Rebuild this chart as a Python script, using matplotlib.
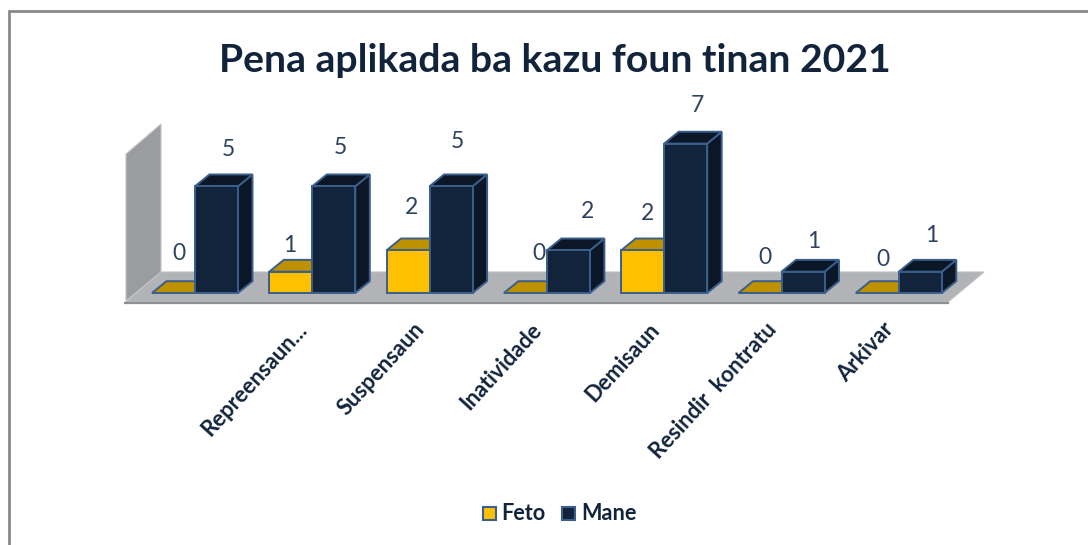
import matplotlib
matplotlib.use("Agg")
import matplotlib.pyplot as plt
from matplotlib.patches import Polygon, Rectangle

categories = ["", "Repreensaun...", "Suspensaun", "Inatividade", "Demisaun", "Resindir  kontratu", "Arkivar"]
feto = [0, 1, 2, 0, 2, 0, 0]
mane = [5, 5, 5, 2, 7, 1, 1]

# value label centres in the picture, (px, py)
feto_lab_pos = [(179, 254), (290, 245), (411, 208), (539, 254), (648, 214), (765, 257), (883, 260)]
mane_lab_pos = [(228, 150), (340, 148), (457, 142), (588, 212), (697, 105), (814, 241), (932, 235)]

W, H = 1088, 545
NAVY = "#12243C"
EDGE = "#3A5F8C"

plt.rcParams["font.family"] = ["Lato", "DejaVu Sans"]

fig = plt.figure(figsize=(W / 100, H / 100), dpi=100, facecolor="white")
ax = fig.add_axes([0, 0, 1, 1])
ax.axis("off")

# scales: category i splits feto/mane at px 195 + 117.3*i, value 0 at px 293
px_cat = 117.3
px_val = 21.35
ax.set_xlim(-195 / px_cat, (W - 195) / px_cat)
ax.set_ylim(-(H - 293) / px_val, 293 / px_val)

bar_w = 43 / px_cat
dx = 14.5 / px_cat
dy = 11.8 / px_val


def X(p):
    return (p - 195) / px_cat


def Y(p):
    return (293 - p) / px_val


# outer frame: only top and left sides show
ax.plot([X(9), X(9), X(W)], [Y(H), Y(11), Y(11)], color="#8A8A8A", lw=2, zorder=1,
        solid_joinstyle="miter")

# wall and floor
ax.add_patch(Polygon([(X(126), Y(154)), (X(161), Y(124)), (X(161), Y(272)), (X(126), Y(301))],
                     fc="#9B9C9F", ec="#C4C5C7", lw=0.8, zorder=2))
ax.add_patch(Polygon([(X(126), Y(302)), (X(161), Y(272)), (X(984), Y(272)), (X(948), Y(302))],
                     fc="#B1B3B6", ec="#BEBFC1", lw=0.8, zorder=2))
ax.plot([X(125), X(948)], [Y(302.5), Y(302.5)], color="#8E8F91", lw=1.6, zorder=3)


def bar3d(x, v, front, top, side, z):
    x1 = x + bar_w
    lw = 1.4
    ax.add_patch(Polygon([(x1, 0), (x1 + dx, dy), (x1 + dx, v + dy), (x1, v)],
                         fc=side, ec=EDGE, lw=lw, zorder=z))
    ax.add_patch(Polygon([(x, v), (x1, v), (x1 + dx, v + dy), (x + dx, v + dy)],
                         fc=top, ec=EDGE, lw=lw, zorder=z))
    if v > 0:
        ax.add_patch(Rectangle((x, 0), bar_w, v, fc=front, ec=EDGE, lw=lw, zorder=z + 0.1))


for i, (f, m) in enumerate(zip(feto, mane)):
    bar3d(i - bar_w, f, "#FFC000", "#BF9000", "#BF9000", 4 + i)
    bar3d(i, m, NAVY, "#0B1626", "#0B1626", 4.5 + i)
    ax.text(X(feto_lab_pos[i][0]), Y(feto_lab_pos[i][1]), str(f), ha="center", va="center",
            fontsize=16.5, color="#2F4360", zorder=20)
    ax.text(X(mane_lab_pos[i][0]), Y(mane_lab_pos[i][1]), str(m), ha="center", va="center",
            fontsize=16.5, color="#2F4360", zorder=20)

# category labels, right end anchored under each group
for i, c in enumerate(categories):
    ax.text(i - 0.14, Y(319), c, rotation=47.5, rotation_mode="anchor", ha="right", va="top",
            fontsize=15.8, fontweight="bold", color=NAVY, zorder=20)

ax.text(X(555), Y(61), "Pena aplikada ba kazu foun tinan 2021", ha="center", va="center",
        fontsize=28.2, fontweight="bold", color=NAVY)

# legend
for px, col, lab, tx in [(483, "#FFC000", "Feto", 501), (562, NAVY, "Mane", 581)]:
    ax.add_patch(Rectangle((X(px), Y(520)), 13 / px_cat, 13 / px_val, fc=col, ec=EDGE, lw=1.5))
    ax.text(X(tx), Y(514), lab, ha="left", va="center", fontsize=15.6, fontweight="bold", color=NAVY)

fig.savefig("out.png", dpi=100, facecolor="white")
